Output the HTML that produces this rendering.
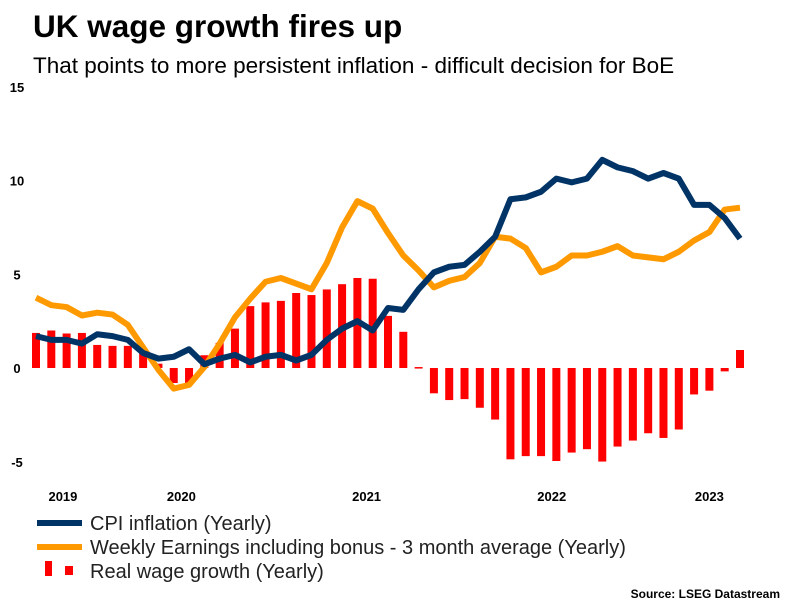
<!DOCTYPE html>
<html><head><meta charset="utf-8"><style>
body{margin:0;background:#fff;width:805px;height:604px;overflow:hidden;font-family:"Liberation Sans",sans-serif}
svg{display:block}
</style></head><body>
<svg id="c" width="805" height="604" xmlns="http://www.w3.org/2000/svg">
<text x="33" y="37" font-size="31.5" font-weight="bold" fill="#000">UK wage growth fires up</text>
<text x="33" y="73" font-size="22.5" fill="#000">That points to more persistent inflation - difficult decision for BoE</text>
<g id="yaxis"></g>
<g id="xaxis"></g>
<g id="bars"></g>
<g id="lines"></g>
<g>
<g><line x1="37" y1="523" x2="82" y2="523" stroke="#003366" stroke-width="6"/><text x="90" y="530" font-size="20" fill="#222">CPI inflation (Yearly)</text></g>
<g><line x1="37" y1="547" x2="82" y2="547" stroke="#FF9900" stroke-width="6"/><text x="90" y="554" font-size="20" fill="#222">Weekly Earnings including bonus - 3 month average (Yearly)</text></g>
<g><rect x="45" y="561" width="7" height="15" fill="#FF0000"/><rect x="65" y="566" width="8" height="9" fill="#FF0000"/><text x="90" y="578" font-size="20" fill="#222">Real wage growth (Yearly)</text></g>
</g>
<text x="780" y="598" font-size="12" font-weight="bold" text-anchor="end" fill="#000">Source: LSEG Datastream</text>
</svg>
<script>
const cpi=[1.7,1.5,1.5,1.3,1.8,1.7,1.5,0.8,0.5,0.6,1.0,0.2,0.5,0.7,0.3,0.6,0.7,0.4,0.7,1.5,2.1,2.5,2.0,3.2,3.1,4.2,5.1,5.4,5.5,6.2,7.0,9.0,9.1,9.4,10.1,9.9,10.1,11.1,10.7,10.5,10.1,10.4,10.1,8.7,8.7,8.0,6.9];
const earnings=[3.75,3.35,3.25,2.8,2.95,2.85,2.3,1.1,-0.1,-1.1,-0.9,0.05,1.3,2.7,3.7,4.6,4.8,4.5,4.2,5.6,7.5,8.9,8.5,7.2,6.0,5.2,4.3,4.65,4.85,5.6,7.0,6.9,6.4,5.1,5.4,6.0,6.0,6.2,6.5,6.0,5.9,5.8,6.2,6.8,7.25,8.45,8.55];
const realWage=[1.87,2.0,1.84,1.87,1.23,1.18,1.18,0.95,0.23,-0.8,-0.8,0.68,1.34,2.1,3.3,3.5,3.58,4.0,3.89,4.19,4.47,4.8,4.76,2.78,1.93,0.05,-1.35,-1.71,-1.66,-2.12,-2.75,-4.87,-4.7,-4.7,-4.96,-4.51,-4.33,-4.99,-4.19,-3.87,-3.48,-3.73,-3.28,-1.41,-1.21,-0.18,0.96];
const yTicks=[15,10,5,0,-5];
const yearLabels=["2019","2020","2021","2022","2023"];
const yearPos=[1.76,9.5,21.6,33.7,44.0];
const NS="http://www.w3.org/2000/svg";
function X(i){return 36+i*(704/46);}
function Y(v){return 368-v*18.75;}
function mk(t,a,p){const e=document.createElementNS(NS,t);for(const k in a)e.setAttribute(k,a[k]);p.appendChild(e);return e;}
const ya=document.getElementById('yaxis');
yTicks.forEach(v=>{const t=mk('text',{x:17,y:Y(v)+5,'font-size':13,'font-weight':'bold','text-anchor':'middle',fill:'#000'},ya);t.textContent=v;

});
const xa=document.getElementById('xaxis');
yearLabels.forEach((l,i)=>{const t=mk('text',{x:X(yearPos[i]),y:501,'font-size':13,'font-weight':'bold','text-anchor':'middle',fill:'#000'},xa);t.textContent=l;

});
const bg=document.getElementById('bars');
realWage.forEach((v,i)=>{const y0=Y(0),y1=Y(v);const r=mk('rect',{x:X(i)-4,y:Math.min(y0,y1),width:8,height:Math.max(1.5,Math.abs(y1-y0)),fill:'#FF0000'},bg);

});
const lg=document.getElementById('lines');
function line(d,c,n){const p=mk('polyline',{points:d.map((v,i)=>X(i)+','+Y(v)).join(' '),fill:'none',stroke:c,'stroke-width':6,'stroke-linejoin':'round'},lg);

}
line(earnings,'#FF9900','earnings-line');
line(cpi,'#003366','cpi-line');
</script>
</body></html>
